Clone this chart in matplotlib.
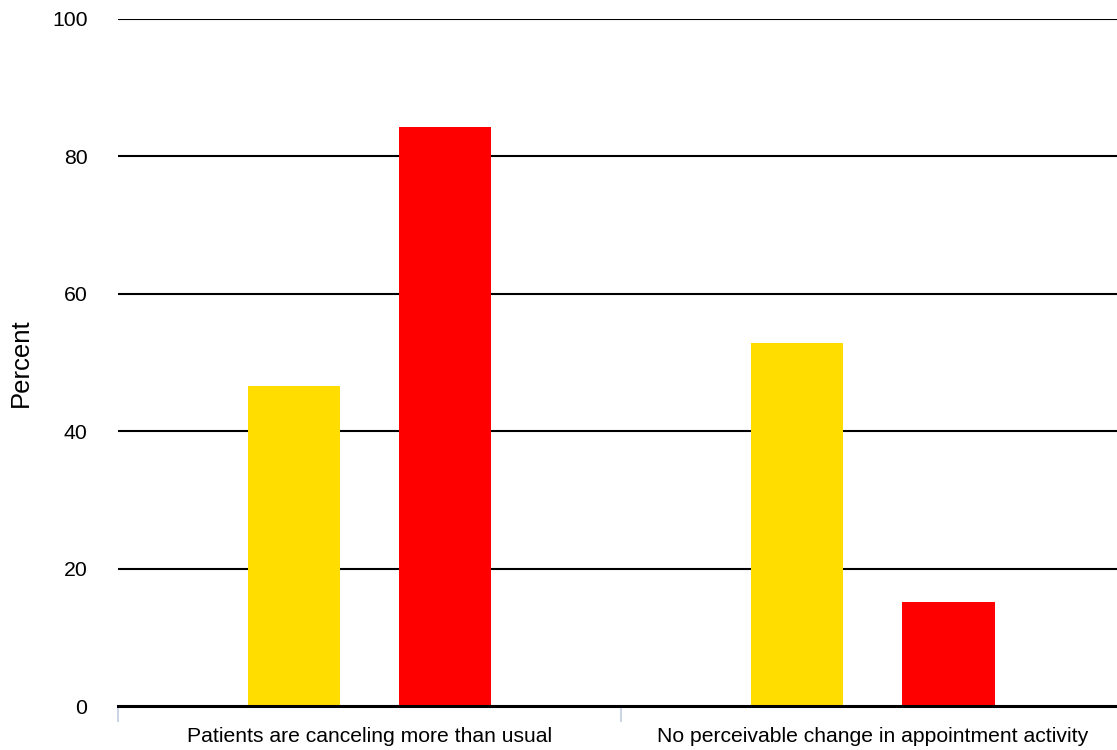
import numpy as np
import matplotlib.pyplot as plt

categories = ["Patients are canceling more than usual",
              "No perceivable change in appointment activity"]
yellow_vals = [46.6, 52.8]
red_vals = [84.3, 15.1]
y_ticks = [0, 20, 40, 60, 80, 100]

plt.rcParams['font.family'] = ['Liberation Sans', 'DejaVu Sans']

fig = plt.figure(figsize=(11.17, 7.5), dpi=100)
ax = fig.add_axes([118 / 1117, 1 - 706 / 750, 999 / 1117, 687 / 750])

x = np.arange(len(categories))
width = 0.183
ax.bar(x - 0.151, yellow_vals, width, color='#FFDD00', zorder=3)
ax.bar(x + 0.151, red_vals, width, color='#FF0000', zorder=3)

ax.set_xlim(-0.5, 1.486)
ax.set_ylim(0, 100)

# horizontal gridlines
for t in y_ticks[1:]:
    ax.axhline(t, color='black', linewidth=1.5, zorder=1)
ax.axhline(0, color='black', linewidth=2.2, zorder=4, clip_on=False)

for s in ax.spines.values():
    s.set_visible(False)

ax.set_yticks(y_ticks)
ax.tick_params(axis='y', length=0, pad=22, labelsize=15.3)

ax.set_xticks(x)
ax.set_xticklabels(categories)
ax.tick_params(axis='x', which='major', length=0, pad=15, labelsize=15.2)
ax.set_xticks([-0.5, 0.5], minor=True)
ax.tick_params(axis='x', which='minor', length=11.5, width=1.3, color='#c5d1e3')

ax.set_ylabel("Percent", fontsize=18.5, labelpad=14)

fig.savefig("out.png", dpi=100)
